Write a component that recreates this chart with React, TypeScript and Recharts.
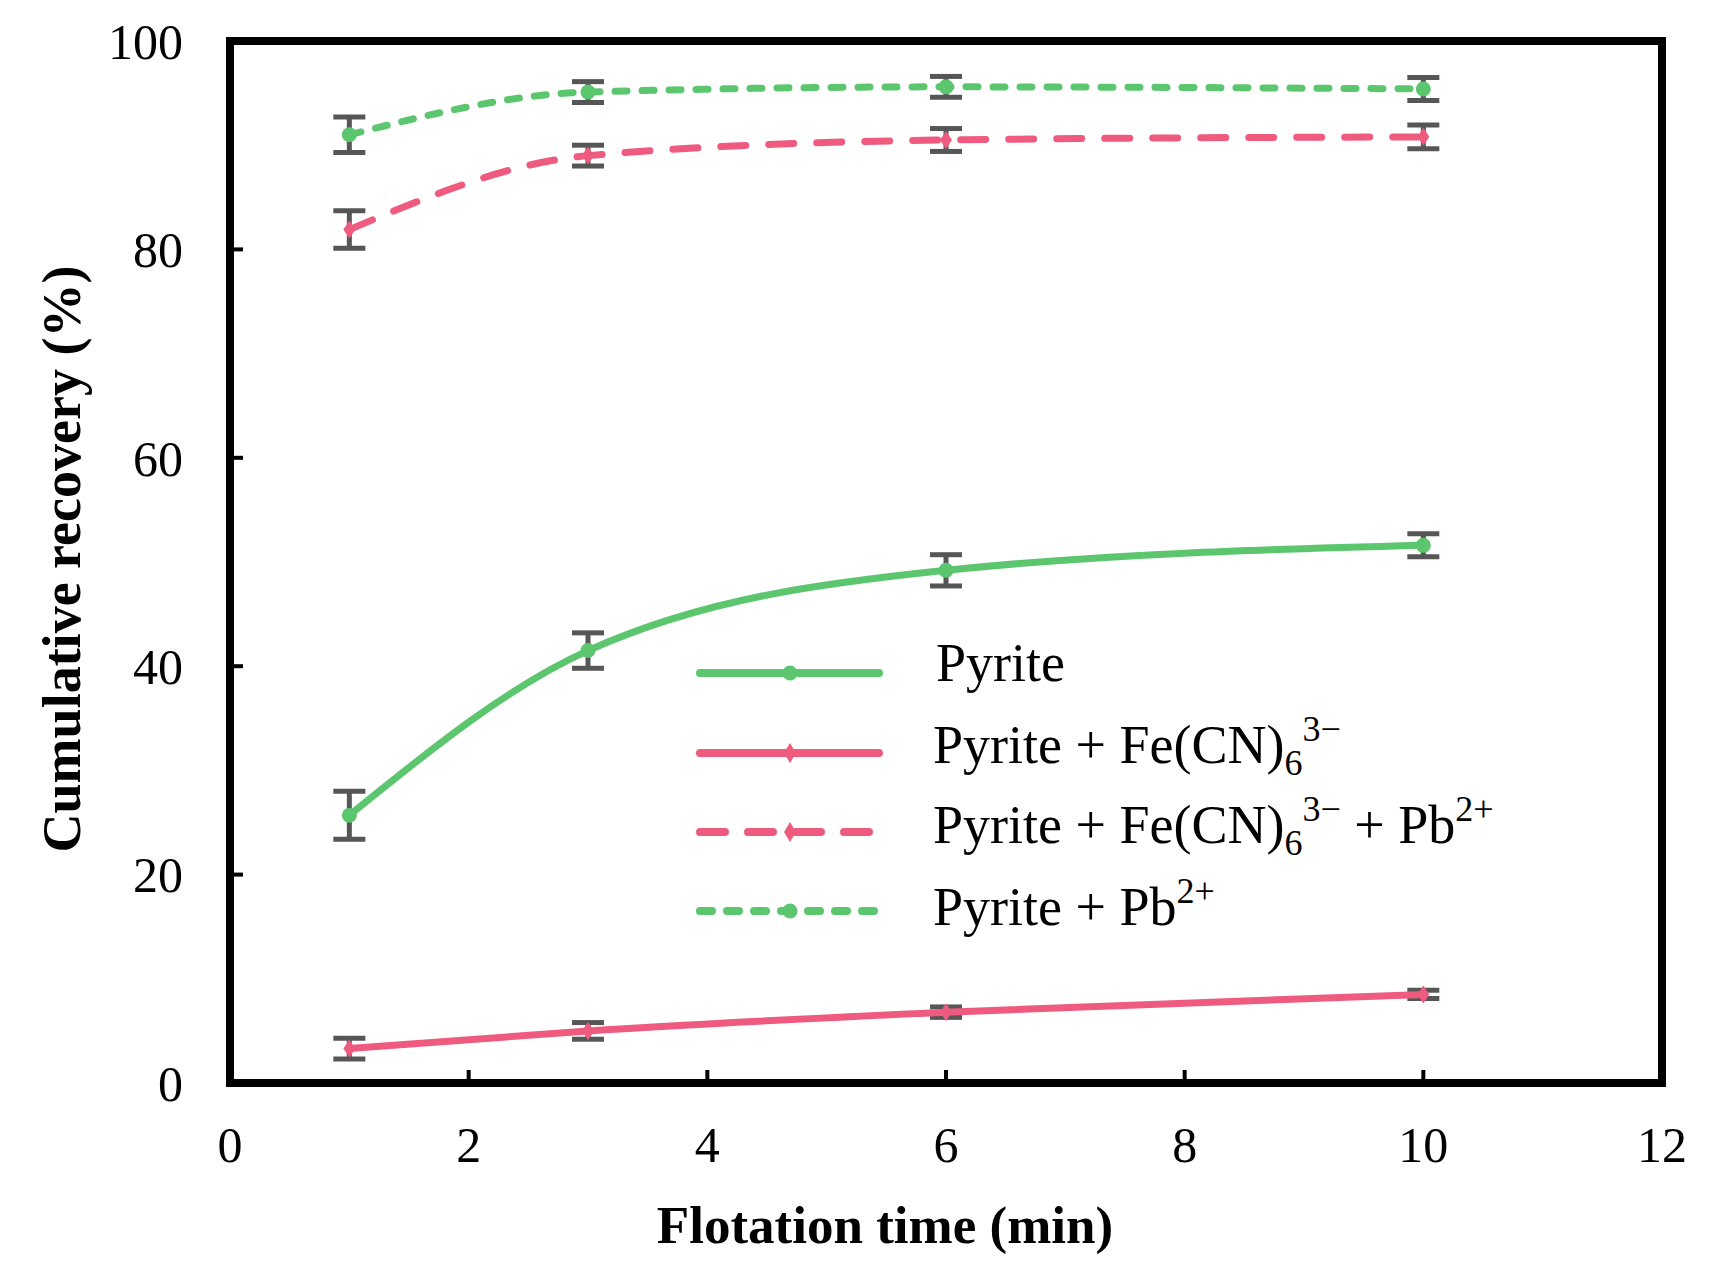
import React from 'react';
import { LineChart, Line, XAxis, YAxis, ErrorBar, ReferenceArea, Legend, Label } from 'recharts';

const times = [1, 3, 6, 10];
const pyrite = [25.7, 41.5, 49.2, 51.6];
const pyriteErr = [2.3, 1.7, 1.5, 1.1];
const pyriteFe = [3.3, 5.0, 6.8, 8.5];
const pyriteFeErr = [1.0, 0.8, 0.5, 0.4];
const pyriteFePb = [81.9, 89.0, 90.5, 90.8];
const pyriteFePbErr = [1.8, 1.0, 1.1, 1.15];
const pyritePb = [91.0, 95.1, 95.6, 95.4];
const pyritePbErr = [1.7, 1.0, 1.0, 1.1];

const xTicks = [0, 2, 4, 6, 8, 10, 12];
const yTicks = [0, 20, 40, 60, 80, 100];

const GREEN = '#5CC66F';
const PINK = '#EE5B7F';
const ERR = '#565656';
const FONT = '"Liberation Serif", "Times New Roman", serif';
const DASH_PB = '12 15';
const DASH_FEPB = '25 23';

const data = times.map((t, i) => ({
  t,
  pyrite: pyrite[i],
  pyriteErr: pyriteErr[i],
  pyriteFe: pyriteFe[i],
  pyriteFeErr: pyriteFeErr[i],
  pyriteFePb: pyriteFePb[i],
  pyriteFePbErr: pyriteFePbErr[i],
  pyritePb: pyritePb[i],
  pyritePbErr: pyritePbErr[i],
}));

const circleDot = (color: string) => (props: any) => {
  const { cx, cy, index } = props;
  if (cx == null || cy == null) return <g key={`c${index}`} />;
  return <circle key={`c${index}`} cx={cx} cy={cy} r={7.5} fill={color} stroke="none" />;
};

const diamondDot = (color: string) => (props: any) => {
  const { cx, cy, index } = props;
  if (cx == null || cy == null) return <g key={`d${index}`} />;
  return (
    <path
      key={`d${index}`}
      d={`M${cx},${cy - 9} L${cx + 6},${cy} L${cx},${cy + 9} L${cx - 6},${cy} Z`}
      fill={color}
      stroke="none"
    />
  );
};

const legendItems = [
  { color: GREEN, dash: undefined, shape: 'circle', parts: [{ t: 'Pyrite' }] },
  {
    color: PINK,
    dash: undefined,
    shape: 'diamond',
    parts: [{ t: 'Pyrite + Fe(CN)' }, { t: '6', sub: true }, { t: '3\u2212', sup: true }],
  },
  {
    color: PINK,
    dash: DASH_FEPB,
    shape: 'diamond',
    parts: [
      { t: 'Pyrite + Fe(CN)' },
      { t: '6', sub: true },
      { t: '3\u2212', sup: true },
      { t: ' + Pb' },
      { t: '2+', sup: true },
    ],
  },
  {
    color: GREEN,
    dash: DASH_PB,
    shape: 'circle',
    parts: [{ t: 'Pyrite + Pb' }, { t: '2+', sup: true }],
  },
];

const rowLineY = [53, 133, 212, 291];
const rowBase = [61, 143, 223, 305];

const renderLegend = () => (
  <svg width={820} height={340} style={{ overflow: 'visible' }}>
    {legendItems.map((it, i) => {
      const y = rowLineY[i];
      let level = 0;
      return (
        <g key={i}>
          <line
            x1={10}
            x2={189}
            y1={y}
            y2={y}
            stroke={it.color}
            strokeWidth={8}
            strokeLinecap="round"
            strokeDasharray={it.dash}
          />
          {it.shape === 'circle' ? (
            <circle cx={100} cy={y} r={7.5} fill={it.color} />
          ) : (
            <path d={`M100,${y - 10} L106,${y} L100,${y + 10} L94,${y} Z`} fill={it.color} />
          )}
          <text x={i === 0 ? 246 : 243} y={rowBase[i]} fontFamily={FONT} fontSize={54} fill="#000">
            {it.parts.map((p: any, j: number) => {
              let target = 0;
              if (p.sub) target = 12;
              if (p.sup) target = -22;
              const dy = target - level;
              level = target;
              return (
                <tspan key={j} dy={dy} fontSize={p.sub || p.sup ? 36 : 54}>
                  {p.t}
                </tspan>
              );
            })}
          </text>
        </g>
      );
    })}
  </svg>
);

const XTitle = (props: any) => {
  const { viewBox } = props;
  const cx = viewBox.x + viewBox.width / 2 - 61;
  return (
    <text x={cx} y={1243} textAnchor="middle" fontFamily={FONT} fontWeight="bold" fontSize={53} fill="#000">
      Flotation time (min)
    </text>
  );
};

const YTitle = (props: any) => {
  const { viewBox } = props;
  const cy = viewBox.y + viewBox.height / 2 - 3;
  const x = 80;
  return (
    <text
      x={x}
      y={cy}
      transform={`rotate(-90, ${x}, ${cy})`}
      textAnchor="middle"
      fontFamily={FONT}
      fontWeight="bold"
      fontSize={54}
      fill="#000"
    >
      Cumulative recovery (%)
    </text>
  );
};

export default function App() {
  return (
    <div style={{ position: 'absolute', left: 0, top: 0, width: 1713, height: 1274, background: '#fff' }}>
      <LineChart
        width={1713}
        height={1274}
        data={data}
        margin={{ top: 41, right: 51, bottom: 91, left: 0 }}
      >
        <XAxis
          dataKey="t"
          type="number"
          domain={[0, 12]}
          ticks={xTicks}
          interval={0}
          height={100}
          axisLine={false}
          tickLine={{ stroke: '#000', strokeWidth: 4 }}
          tickSize={-13}
          tickMargin={56}
          tick={{ fill: '#000', fontFamily: FONT, fontSize: 50 }}
        >
          <Label content={<XTitle />} />
        </XAxis>
        <YAxis
          type="number"
          domain={[0, 100]}
          ticks={yTicks}
          interval={0}
          width={230}
          axisLine={false}
          tickLine={{ stroke: '#000', strokeWidth: 4 }}
          tickSize={-13}
          tickMargin={60}
          tick={{ fill: '#000', fontFamily: FONT, fontSize: 50 }}
        >
          <Label content={<YTitle />} />
        </YAxis>
        <ReferenceArea x1={0} x2={12} y1={0} y2={100} fill="none" fillOpacity={0} stroke="#000" strokeWidth={8} />
        <Line
          type="monotone"
          dataKey="pyrite"
          name="Pyrite"
          stroke={GREEN}
          strokeWidth={7}
          dot={circleDot(GREEN)}
          activeDot={false}
          isAnimationActive={false}
        >
          <ErrorBar dataKey="pyriteErr" width={16} stroke={ERR} strokeWidth={5} direction="y" isAnimationActive={false} />
        </Line>
        <Line
          type="monotone"
          dataKey="pyriteFe"
          name="Pyrite + Fe(CN)6 3-"
          stroke={PINK}
          strokeWidth={7}
          dot={diamondDot(PINK)}
          activeDot={false}
          isAnimationActive={false}
        >
          <ErrorBar dataKey="pyriteFeErr" width={16} stroke={ERR} strokeWidth={5} direction="y" isAnimationActive={false} />
        </Line>
        <Line
          type="monotone"
          dataKey="pyriteFePb"
          name="Pyrite + Fe(CN)6 3- + Pb2+"
          stroke={PINK}
          strokeWidth={7}
          strokeLinecap="round"
          strokeDasharray={DASH_FEPB}
          dot={diamondDot(PINK)}
          activeDot={false}
          isAnimationActive={false}
        >
          <ErrorBar dataKey="pyriteFePbErr" width={16} stroke={ERR} strokeWidth={5} direction="y" isAnimationActive={false} />
        </Line>
        <Line
          type="monotone"
          dataKey="pyritePb"
          name="Pyrite + Pb2+"
          stroke={GREEN}
          strokeWidth={7}
          strokeLinecap="round"
          strokeDasharray={DASH_PB}
          dot={circleDot(GREEN)}
          activeDot={false}
          isAnimationActive={false}
        >
          <ErrorBar dataKey="pyritePbErr" width={16} stroke={ERR} strokeWidth={5} direction="y" isAnimationActive={false} />
        </Line>
        <Legend
          layout="vertical"
          align="center"
          verticalAlign="middle"
          wrapperStyle={{ left: 690, top: 620, width: 820, height: 340 }}
          content={renderLegend}
        />
      </LineChart>
    </div>
  );
}
